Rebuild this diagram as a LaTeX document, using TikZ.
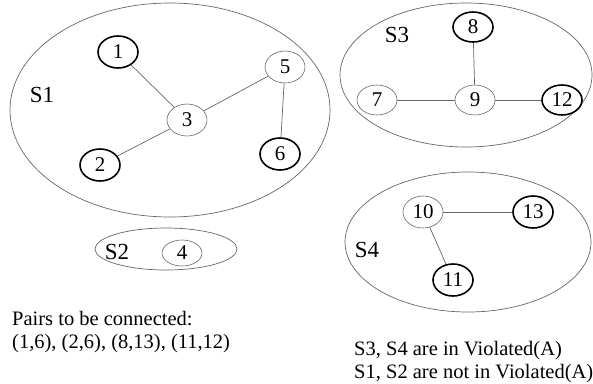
\documentclass[tikz,border=0pt]{standalone}
\usepackage{fontspec}
\setmainfont{Liberation Serif}
\usetikzlibrary{shapes.geometric}
\begin{document}
\begin{tikzpicture}[x=1pt,y=-1pt,
  vertex/.style={ellipse,draw=black!60,line width=0.6pt,minimum width=40pt,minimum height=32pt,inner sep=0pt,font=\fontsize{21}{23}\selectfont},
  terminal/.style={vertex,draw=black,line width=1.6pt},
  group/.style={draw=black!60,line width=0.7pt},
  edge/.style={draw=black!60,line width=0.7pt},
  setlabel/.style={font=\fontsize{23}{25}\selectfont,inner sep=0pt},
  note/.style={font=\fontsize{20.5}{23}\selectfont,align=left,inner sep=0pt,anchor=west}]
\useasboundingbox (0,0) rectangle (593,383);
% the four sets
\draw[group] (170,110) ellipse [x radius=160, y radius=107];
\draw[group] (466,75) ellipse [x radius=126, y radius=72];
\draw[group] (468,242) ellipse [x radius=123, y radius=70];
\draw[group] (166,249) ellipse [x radius=71, y radius=21];
\node[setlabel] (s1) at (42,95) {S1};
\node[setlabel] (s2) at (117,252) {S2};
\node[setlabel] (s3) at (397,35) {S3};
\node[setlabel] (s4) at (367,250) {S4};
% S1
\node[terminal] (n1) at (118,52) {1};
\node[vertex] (n3) at (187,120) {3};
\node[vertex] (n5) at (285,67) {5};
\node[terminal] (n2) at (100,165) {2};
\node[terminal] (n6) at (280,154) {6};
% S2
\node[vertex,minimum height=26pt] (n4) at (182,253) {4};
% S3
\node[terminal,minimum height=30pt] (n8) at (473,27) {8};
\node[vertex,minimum height=30pt] (n7) at (377,100) {7};
\node[vertex,minimum height=30pt] (n9) at (475,100) {9};
\node[terminal,minimum height=30pt] (n12) at (562,100) {12};
% S4
\node[vertex] (n10) at (423,212) {10};
\node[terminal] (n13) at (533,212) {13};
\node[terminal] (n11) at (453,280) {11};
% edges
\draw[edge] (n1) -- (n3);
\draw[edge] (n2) -- (n3);
\draw[edge] (n3) -- (n5);
\draw[edge] (n5) -- (n6);
\draw[edge] (n8) -- (n9);
\draw[edge] (n7) -- (n9);
\draw[edge] (n9) -- (n12);
\draw[edge] (n10) -- (n13);
\draw[edge] (n10) -- (n11);
% notes
\node[note] (pairs) at (12,332) {Pairs to be connected:\\(1,6), (2,6), (8,13), (11,12)};
\node[note] (viol) at (354,362) {S3, S4 are in Violated(A)\\S1, S2 are not in Violated(A)};
\end{tikzpicture}
\end{document}
